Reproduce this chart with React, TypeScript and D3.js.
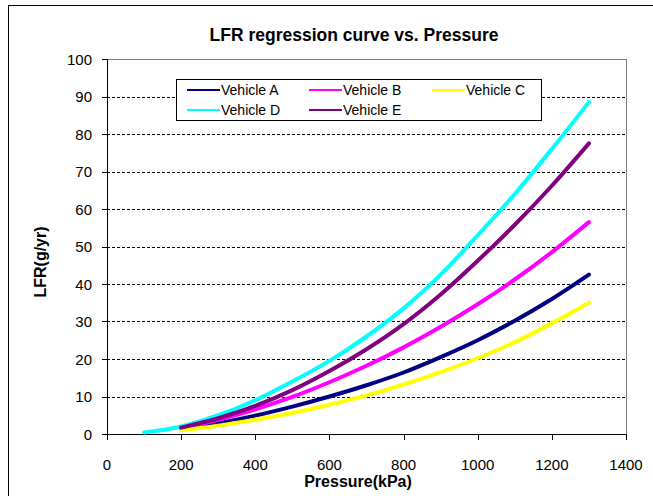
import React from "react";
import * as d3 from "d3";

const pressureFrom100 = [100, 200, 300, 400, 500, 600, 700, 800, 900, 1000, 1100, 1200, 1300];
const pressureFrom200 = [200, 300, 400, 500, 600, 700, 800, 900, 1000, 1100, 1200, 1300];

const vehicleA = [1.3, 2.9, 4.9, 7.3, 10.0, 13.0, 16.4, 20.5, 25.0, 30.2, 36.0, 42.5];
const vehicleB = [1.6, 3.8, 6.6, 9.9, 13.8, 18.2, 23.1, 28.6, 34.6, 41.2, 48.5, 56.5];
const vehicleC = [1.0, 2.2, 3.8, 5.6, 7.8, 10.3, 13.2, 16.5, 20.2, 24.5, 29.5, 35.0];
const vehicleD = [0.4, 2.0, 5.0, 9.0, 14.0, 19.5, 26.0, 33.5, 42.5, 53.0, 64.0, 76.0, 88.5];
const vehicleE = [1.7, 4.2, 7.5, 11.7, 16.8, 22.6, 29.3, 37.2, 46.2, 55.8, 66.2, 77.5];

const seriesNames = ["Vehicle A", "Vehicle B", "Vehicle C", "Vehicle D", "Vehicle E"];
const seriesColors = ["#000080", "#FF00FF", "#FFFF00", "#00FFFF", "#800080"];

const xTicks = [0, 200, 400, 600, 800, 1000, 1200, 1400];
const yTicks = [0, 10, 20, 30, 40, 50, 60, 70, 80, 90, 100];

const W = 653;
const H = 496;
const plot = { left: 107, right: 626, top: 59, bottom: 434 };
const FONT = "Arial, 'Liberation Sans', sans-serif";

export default function App() {
  const x = d3.scaleLinear().domain([0, 1400]).range([plot.left, plot.right]);
  const y = d3.scaleLinear().domain([0, 100]).range([plot.bottom, plot.top]);

  const series = [
    { name: seriesNames[0], color: seriesColors[0], xs: pressureFrom200, ys: vehicleA },
    { name: seriesNames[1], color: seriesColors[1], xs: pressureFrom200, ys: vehicleB },
    { name: seriesNames[2], color: seriesColors[2], xs: pressureFrom200, ys: vehicleC },
    { name: seriesNames[3], color: seriesColors[3], xs: pressureFrom100, ys: vehicleD },
    { name: seriesNames[4], color: seriesColors[4], xs: pressureFrom200, ys: vehicleE },
  ];

  const line = d3
    .line<[number, number]>()
    .x((d) => x(d[0]))
    .y((d) => y(d[1]))
    .curve(d3.curveCatmullRom.alpha(0.5));

  const legendPos = [
    { lx: 187, ly: 90 },
    { lx: 309, ly: 90 },
    { lx: 432, ly: 90 },
    { lx: 187, ly: 110 },
    { lx: 309, ly: 110 },
  ];

  return (
    <svg
      width={W}
      height={H}
      style={{ position: "absolute", left: 0, top: 0, background: "#fff" }}
      fontFamily={FONT}
    >
      <rect x={0} y={0} width={W} height={H} fill="#fff" />
      {/* chart area border */}
      <rect x={8.5} y={5.5} width={700} height={600} fill="none" stroke="#000" strokeWidth={1} />

      {/* title */}
      <text x={354} y={41} textAnchor="middle" fontSize={17.5} fontWeight="bold" fill="#000">
        LFR regression curve vs. Pressure
      </text>

      {/* gridlines */}
      {yTicks
        .filter((t) => t > 0 && t < 100)
        .map((t) => (
          <line
            key={"g" + t}
            x1={plot.left}
            x2={plot.right}
            y1={Math.round(y(t)) + 0.5}
            y2={Math.round(y(t)) + 0.5}
            stroke="#000"
            strokeWidth={1}
            strokeDasharray="3,2"
          />
        ))}

      {/* plot area border top/right */}
      <line x1={plot.left} x2={plot.right + 0.5} y1={plot.top + 0.5} y2={plot.top + 0.5} stroke="#808080" />
      <line x1={plot.right + 0.5} x2={plot.right + 0.5} y1={plot.top} y2={plot.bottom} stroke="#808080" />

      {/* axes */}
      <line x1={plot.left + 0.5} x2={plot.left + 0.5} y1={plot.top} y2={plot.bottom} stroke="#000" />
      <line x1={plot.left} x2={plot.right + 1} y1={plot.bottom + 0.5} y2={plot.bottom + 0.5} stroke="#000" />

      {yTicks.map((t) => (
        <g key={"y" + t}>
          <line
            x1={plot.left - 5}
            x2={plot.left}
            y1={Math.round(y(t)) + 0.5}
            y2={Math.round(y(t)) + 0.5}
            stroke="#000"
          />
          <text x={92} y={y(t) + 5.5} textAnchor="end" fontSize={15} fill="#000">
            {t}
          </text>
        </g>
      ))}

      {xTicks.map((t) => (
        <g key={"x" + t}>
          <line
            x1={Math.round(x(t)) + 0.5}
            x2={Math.round(x(t)) + 0.5}
            y1={plot.bottom}
            y2={plot.bottom + 6}
            stroke="#000"
          />
          <text x={x(t)} y={470} textAnchor="middle" fontSize={15} fill="#000">
            {t}
          </text>
        </g>
      ))}

      {/* axis titles */}
      <text x={358} y={487} textAnchor="middle" fontSize={16} fontWeight="bold" fill="#000">
        Pressure(kPa)
      </text>
      <text
        transform={`translate(46, 262) rotate(-90)`}
        textAnchor="middle"
        fontSize={16}
        fontWeight="bold"
        fill="#000"
      >
        LFR(g/yr)
      </text>

      {/* series */}
      {series.map((s) => (
        <path
          key={s.name}
          d={line(s.xs.map((v, i) => [v, s.ys[i]] as [number, number])) || ""}
          fill="none"
          stroke={s.color}
          strokeWidth={4}
          strokeLinecap="round"
          strokeLinejoin="round"
        />
      ))}

      {/* legend */}
      <rect x={176.5} y={79.5} width={365} height={41} fill="#fff" stroke="#000" />
      {series.map((s, i) => (
        <g key={"l" + s.name}>
          <line
            x1={legendPos[i].lx}
            x2={legendPos[i].lx + 33}
            y1={legendPos[i].ly}
            y2={legendPos[i].ly}
            stroke={s.color}
            strokeWidth={2}
          />
          <text x={legendPos[i].lx + 34} y={legendPos[i].ly + 5} fontSize={14} fill="#000">
            {s.name}
          </text>
        </g>
      ))}
    </svg>
  );
}
